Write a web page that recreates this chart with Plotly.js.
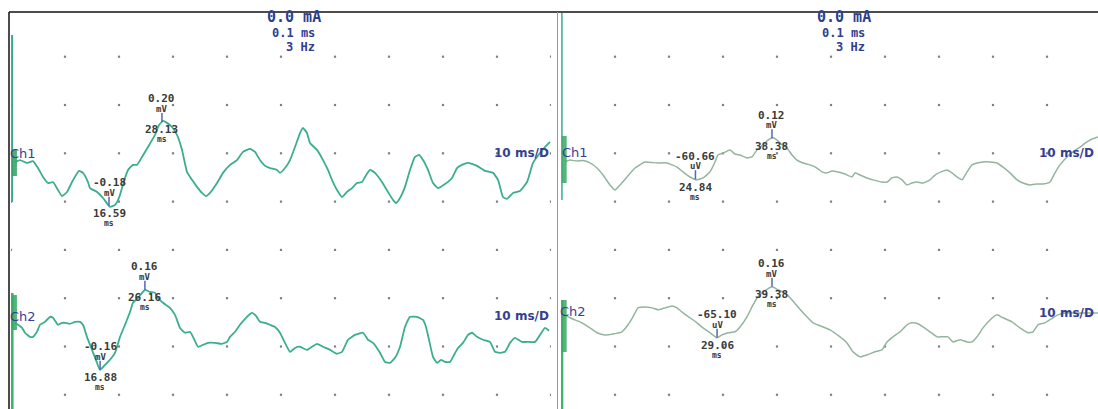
<!DOCTYPE html>
<html>
<head>
<meta charset="utf-8">
<script src="https://cdn.plot.ly/plotly-3.0.1.min.js"></script>
<style>html,body{margin:0;padding:0;background:#fff;}#chart{width:1098px;height:409px;}</style>
</head>
<body>
<div id="chart"></div>
<script>
// ---------- data (time in ms, amplitude in mV) ----------
const ch1L_t = [0.74,1.67,2.96,4.07,5.0,5.93,6.85,7.78,8.70,9.44,10.37,11.30,12.59,13.33,14.26,14.63,15.93,17.04,18.33,19.26,20.0,21.11,21.67,22.59,23.33,24.26,25.37,26.67,27.41,28.15,28.89,29.81,30.74,31.67,32.59,33.52,34.44,35.37,36.11,36.85,38.15,39.26,40.56,41.85,42.96,44.26,45.19,46.11,47.04,47.96,49.26,49.81,50.74,51.67,52.59,53.52,54.07,54.81,55.37,56.67,57.78,58.70,59.44,60.37,61.30,62.22,63.15,64.07,65.0,65.56,66.48,67.41,68.70,69.81,70.74,71.30,72.04,72.96,73.89,74.81,75.56,76.30,77.22,78.15,79.07,80.37,81.67,82.59,83.52,84.63,86.30,87.78,89.26,90.19,91.11,91.85,92.96,94.26,95.56,96.67,97.96,98.89,99.81];
const ch1L_v = [0.004,0.012,0,0.008,-0.021,-0.058,-0.083,-0.079,-0.112,-0.137,-0.120,-0.079,-0.033,-0.041,-0.079,-0.104,-0.120,-0.145,-0.182,-0.174,-0.145,-0.062,-0.029,-0.008,-0.008,0.025,0.066,0.116,0.157,0.174,0.166,0.149,0.116,0.054,-0.037,-0.070,-0.099,-0.124,-0.137,-0.124,-0.083,-0.041,-0.008,0.012,0.046,0.058,0.046,0.012,-0.012,-0.021,-0.029,-0.041,-0.021,0.012,0.066,0.124,0.145,0.124,0.083,0.054,0.012,-0.029,-0.070,-0.112,-0.141,-0.120,-0.104,-0.083,-0.079,-0.058,-0.029,-0.041,-0.079,-0.120,-0.153,-0.166,-0.145,-0.099,-0.029,0.025,0.033,0.012,-0.029,-0.083,-0.104,-0.087,-0.062,-0.021,-0.008,0,-0.012,-0.033,-0.041,-0.070,-0.141,-0.149,-0.124,-0.116,-0.079,0,0.041,0.066,0.087];

const ch2L_t = [0.74,1.30,2.04,2.59,3.52,4.07,4.81,5.37,6.30,7.22,7.78,8.70,9.44,10.0,10.93,11.85,12.78,13.33,14.07,15.0,15.93,16.48,17.41,18.33,19.26,20.19,21.11,22.04,22.59,23.52,24.81,25.74,26.67,27.22,28.15,29.44,30.37,31.30,32.22,33.15,33.70,34.63,35.56,36.48,37.78,39.07,40.0,40.56,41.48,42.41,43.70,44.63,45.37,46.11,47.04,47.96,48.89,49.81,50.74,51.67,52.59,53.52,54.81,55.74,56.67,57.78,59.07,60.37,61.30,62.41,63.70,65.19,66.11,67.04,68.33,69.26,70.19,71.11,72.04,72.96,73.89,75.19,76.30,76.85,77.41,78.15,78.89,79.63,80.37,81.30,82.04,82.78,83.70,84.63,85.37,86.30,87.41,88.70,89.63,90.56,91.48,92.41,93.33,94.63,95.74,97.04,97.96,98.89,99.63];
const ch2L_v = [-0.003,-0.010,-0.023,-0.043,-0.060,-0.060,-0.039,-0.010,0.002,0.023,0.019,-0.010,-0.002,-0.002,-0.006,0.002,0.002,-0.010,-0.060,-0.114,-0.168,-0.197,-0.176,-0.155,-0.126,-0.060,-0.010,0.043,0.081,0.101,0.135,0.126,0.122,0.101,0.081,0.060,0.031,-0.023,-0.043,-0.039,-0.060,-0.101,-0.093,-0.085,-0.085,-0.089,-0.081,-0.060,-0.039,-0.010,0.023,0.039,0.027,0.002,-0.002,-0.010,-0.019,-0.043,-0.085,-0.122,-0.106,-0.101,-0.114,-0.101,-0.089,-0.101,-0.114,-0.130,-0.122,-0.072,-0.052,-0.043,-0.072,-0.085,-0.126,-0.164,-0.168,-0.147,-0.101,-0.019,0.023,0.023,0.010,-0.019,-0.072,-0.143,-0.168,-0.155,-0.164,-0.164,-0.135,-0.106,-0.085,-0.052,-0.043,-0.060,-0.072,-0.081,-0.122,-0.126,-0.122,-0.085,-0.064,-0.081,-0.081,-0.081,-0.052,-0.023,-0.035];

const ch1R_t = [0.74,1.67,2.96,4.07,5.37,6.67,7.78,9.07,10.0,10.93,12.22,13.70,15.56,17.78,19.63,21.48,22.59,23.89,25.19,26.30,27.59,28.52,29.07,30.0,31.30,32.22,33.15,34.44,35.37,36.30,37.41,38.33,39.26,40.0,40.93,41.85,42.78,43.70,44.81,46.11,47.41,48.33,49.26,50.19,51.30,52.59,53.89,54.44,55.37,56.67,57.78,59.44,60.37,61.30,62.22,63.15,64.07,65.0,65.93,67.04,68.33,69.26,70.37,71.48,72.41,73.33,74.26,75.19,76.11,77.04,78.15,79.44,80.74,81.85,83.15,84.44,85.56,86.85,88.15,89.26,90.56,91.48,92.41,93.70,94.81,96.11,97.41,98.33,99.44];
const ch1R_v = [0.005,0.012,0.008,0.010,0,-0.021,-0.050,-0.091,-0.112,-0.091,-0.058,-0.021,0.004,0,0,-0.017,-0.037,-0.058,-0.070,-0.062,-0.037,0.004,0.033,0.041,0.054,0.037,0.033,0.021,0.025,0.054,0.075,0.095,0.104,0.095,0.075,0.062,0.033,0.012,0,-0.008,-0.021,-0.037,-0.041,-0.033,-0.037,-0.046,-0.058,-0.041,-0.050,-0.062,-0.070,-0.079,-0.079,-0.062,-0.058,-0.070,-0.091,-0.083,-0.079,-0.083,-0.070,-0.050,-0.037,-0.029,-0.041,-0.058,-0.070,-0.037,-0.008,0,0.004,0.004,0,-0.017,-0.041,-0.070,-0.083,-0.091,-0.087,-0.087,-0.079,-0.041,-0.008,0.025,0.046,0.066,0.087,0.099,0.108];

const ch2R_t = [0.74,1.67,2.59,3.89,5.37,6.67,8.15,9.63,11.30,12.41,13.33,14.26,15.56,16.85,17.96,19.26,20.56,21.48,22.59,23.89,25.19,26.30,27.59,28.89,29.81,30.93,32.22,33.15,34.44,35.37,36.30,37.41,39.07,40.19,41.48,42.78,43.89,45.19,46.67,47.96,49.81,51.67,52.96,54.07,55.37,56.67,58.15,59.44,60.37,61.48,62.78,64.07,65.0,66.11,67.04,68.33,69.63,70.74,71.67,72.59,73.89,75.19,76.11,77.04,78.15,79.44,80.74,81.85,83.52,85.0,86.48,87.41,88.33,89.63,91.11,92.04,93.33,94.81,96.67,99.44];
const ch2R_v = [0.031,0.019,0.010,-0.002,-0.023,-0.043,-0.052,-0.048,-0.039,-0.010,0.023,0.060,0.064,0.060,0.052,0.060,0.068,0.060,0.039,0.019,-0.002,-0.023,-0.043,-0.064,-0.052,-0.043,-0.039,-0.019,0.023,0.064,0.101,0.126,0.147,0.135,0.122,0.093,0.064,0.031,-0.002,-0.014,-0.031,-0.060,-0.085,-0.122,-0.143,-0.135,-0.122,-0.114,-0.081,-0.060,-0.039,-0.010,-0.002,-0.006,-0.019,-0.039,-0.060,-0.060,-0.060,-0.081,-0.072,-0.081,-0.081,-0.060,-0.023,0.010,0.031,0.019,0.002,-0.023,-0.043,-0.039,-0.010,-0.002,0.019,0.031,0.039,0.039,0.039,0.039];

// peak markers
const markPanel = ['L','L','L','L','R','R','R','R'];
const markChan  = [1,1,2,2,1,1,2,2];
const markAt    = [27.96,18.15,24.8,16.5,24.9,39.07,28.9,39.07];
const markAmp   = ['0.20','-0.18','0.16','-0.16','-60.66','0.12','-65.10','0.16'];
const markUnit  = ['mV','mV','mV','mV','uV','mV','uV','mV'];
const markLat   = ['28.13','16.59','26.16','16.88','24.84','38.38','29.06','39.38'];

// header / labels
const headerLines = ['0.0 mA','0.1 ms','3 Hz'];
const chanNames = ['Ch1','Ch2'];
const sweepLabel = '10 ms/D';

// ---------- layout helpers ----------
const W = 1098, H = 409;
const PXMS = 5.4;          // px per ms (10 ms / division)
const PXMV = 241.5;        // px per mV (0.2 mV / division)
const Y0PX = 153.3;        // pixel row of y = 0
const Y = p => (Y0PX - p) / PXMV;
const chOffset = {1: -0.04, 2: -0.70};
const trColor = {L: '#3aae8e', R: '#93b59e'};

function shift(v, off){ return v.map(a => +(a + off).toFixed(4)); }
function interp(ts, vs, t){
  for (let i = 0; i < ts.length - 1; i++){
    if (t >= ts[i] && t <= ts[i+1]){
      const f = (t - ts[i]) / (ts[i+1] - ts[i]);
      return vs[i] + f * (vs[i+1] - vs[i]);
    }
  }
  return vs[vs.length-1];
}
const series = {
  L1: [ch1L_t, ch1L_v], L2: [ch2L_t, ch2L_v],
  R1: [ch1R_t, ch1R_v], R2: [ch2R_t, ch2R_v]
};

const traces = [];
// grid dots
const rows = [0.4,0.2,0,-0.2,-0.4,-0.6,-0.8,-1.0];
const gxL = [], gyL = [], gxR = [], gyR = [];
rows.forEach(r => {
  for (let c = 0; c <= 100; c += 10){ gxL.push(c); gyL.push(r); }
  for (let c = 10; c <= 90; c += 10){ gxR.push(c); gyR.push(r); }
});
traces.push({x: gxL, y: gyL, xaxis:'x', yaxis:'y', mode:'markers', marker:{size:2.2, color:'#808080', symbol:'square'}, hoverinfo:'skip'});
traces.push({x: gxR, y: gyR, xaxis:'x2', yaxis:'y', mode:'markers', marker:{size:2.2, color:'#808080', symbol:'square'}, hoverinfo:'skip'});

['L','R'].forEach(p => {
  [1,2].forEach(c => {
    const s = series[p + c];
    traces.push({
      x: s[0], y: shift(s[1], chOffset[c]),
      xaxis: p === 'L' ? 'x' : 'x2', yaxis: 'y',
      mode: 'lines', line: {color: trColor[p], width: p === 'L' ? 1.8 : 1.5, shape: 'spline', smoothing: 0.4},
      hoverinfo: 'skip'
    });
  });
});

const shapes = [];
const annotations = [];
// frame
shapes.push({type:'line', xref:'paper', yref:'paper', x0: 9/W, x1: 1, y0: 1-12/H, y1: 1-12/H, line:{color:'#111', width:1.5}});
shapes.push({type:'line', xref:'paper', yref:'paper', x0: 9/W, x1: 9/W, y0: 0, y1: 1-12/H, line:{color:'#111', width:1.5}});
shapes.push({type:'line', xref:'paper', yref:'paper', x0: 557.5/W, x1: 557.5/W, y0: 0, y1: 1-12/H, line:{color:'#9a9a9a', width:1}});

// stimulus artefacts
function artefact(xr, x, top, bot, col, w, bTop, bBot, bCol){
  shapes.push({type:'line', xref:xr, yref:'y', x0:x, x1:x, y0:Y(top), y1:Y(bot), line:{color:col, width:w}});
  shapes.push({type:'rect', xref:xr, yref:'y', x0:x, x1:x+0.9, y0:Y(bBot), y1:Y(bTop), line:{width:0}, fillcolor:bCol, opacity:0.85});
}
artefact('x', 0.2, 35, 202, '#3aa88c', 2, 150, 176, '#2fa060');
artefact('x', 0.2, 293, 409, '#3cb46e', 3, 295, 330, '#35a860');
artefact('x2', 0.15, 13, 200, '#5ab8b4', 2, 136, 183, '#3aa865');
artefact('x2', 0.15, 300, 409, '#3cb46e', 3, 300, 352, '#3aa865');

// header text
const hdrFont = (s) => ({family:'DejaVu Sans Mono', size:s, color:'#2f3f8f', weight:700});
['x','x2'].forEach(xr => {
  annotations.push({xref:xr, yref:'y', x:57.8, y:Y(17), text:headerLines[0], showarrow:false, xanchor:'right', yanchor:'middle', font:hdrFont(15)});
  annotations.push({xref:xr, yref:'y', x:56.6, y:Y(33), text:headerLines[1], showarrow:false, xanchor:'right', yanchor:'middle', font:hdrFont(12)});
  annotations.push({xref:xr, yref:'y', x:56.6, y:Y(47), text:headerLines[2], showarrow:false, xanchor:'right', yanchor:'middle', font:hdrFont(12)});
});

// channel + sweep labels
const lblFont = {family:'DejaVu Sans', size:13, color:'#3a3d92'};
annotations.push({xref:'x', yref:'y', x:0, y:Y(153), text:chanNames[0], showarrow:false, xanchor:'left', xshift:-3, yanchor:'middle', font:lblFont});
annotations.push({xref:'x', yref:'y', x:0, y:Y(316), text:chanNames[1], showarrow:false, xanchor:'left', xshift:-3, yanchor:'middle', font:lblFont});
annotations.push({xref:'x2', yref:'y', x:0, y:Y(152), text:chanNames[0], showarrow:false, xanchor:'left', xshift:-1, yanchor:'middle', font:lblFont});
annotations.push({xref:'x2', yref:'y', x:0, y:Y(311), text:chanNames[1], showarrow:false, xanchor:'left', xshift:-3, yanchor:'middle', font:lblFont});
const swFont = {family:'DejaVu Sans', size:12, color:'#343f8f', weight:700};
annotations.push({xref:'x', yref:'y', x:100, y:Y(153), text:sweepLabel, showarrow:false, xanchor:'right', yanchor:'middle', font:swFont});
annotations.push({xref:'x', yref:'y', x:100, y:Y(316), text:sweepLabel, showarrow:false, xanchor:'right', yanchor:'middle', font:swFont});
annotations.push({xref:'x2', yref:'y', x:(W-2-561)/PXMS, y:Y(153), text:sweepLabel, showarrow:false, xanchor:'right', yanchor:'middle', font:swFont});
annotations.push({xref:'x2', yref:'y', x:(W-2-561)/PXMS, y:Y(313), text:sweepLabel, showarrow:false, xanchor:'right', yanchor:'middle', font:swFont});

// peak markers
const mkFont = (s) => ({family:'DejaVu Sans Mono', size:s, color:'#3a3a3a', weight:700});
for (let i = 0; i < markAt.length; i++){
  const p = markPanel[i], c = markChan[i];
  const xr = p === 'L' ? 'x' : 'x2';
  const s = series[p + c];
  const yv = interp(s[0], s[1], markAt[i]) + chOffset[c];
  shapes.push({type:'line', xref:xr, yref:'y', x0:markAt[i], x1:markAt[i], y0:yv, y1:yv + 9/PXMV, line:{color:'#5566b5', width:1.5}});
  const base = {xref:xr, yref:'y', x:markAt[i], y:yv, showarrow:false, xanchor:'center', yanchor:'middle'};
  annotations.push(Object.assign({}, base, {text:markAmp[i], yshift:23, font:mkFont(11)}));
  annotations.push(Object.assign({}, base, {text:markUnit[i], yshift:13, font:mkFont(9)}));
  annotations.push(Object.assign({}, base, {text:markLat[i], yshift:-8, font:mkFont(11)}));
  annotations.push(Object.assign({}, base, {text:'ms', yshift:-18, font:mkFont(8)}));
}

const axisOff = {showgrid:false, zeroline:false, showticklabels:false, showline:false, ticks:'', fixedrange:true};
const layout = {
  width: W, height: H,
  margin: {l:0, r:0, t:0, b:0, pad:0},
  paper_bgcolor: '#ffffff', plot_bgcolor: '#ffffff',
  showlegend: false,
  xaxis: Object.assign({domain:[11/W, 551/W], range:[0, 100], anchor:'y'}, axisOff),
  xaxis2: Object.assign({domain:[561/W, 1], range:[0, (W-561)/PXMS], anchor:'y'}, axisOff),
  yaxis: Object.assign({domain:[0,1], range:[Y(H), Y(0)]}, axisOff),
  shapes: shapes,
  annotations: annotations
};
Plotly.newPlot('chart', traces, layout, {staticPlot:true, displayModeBar:false});
</script>
</body>
</html>
